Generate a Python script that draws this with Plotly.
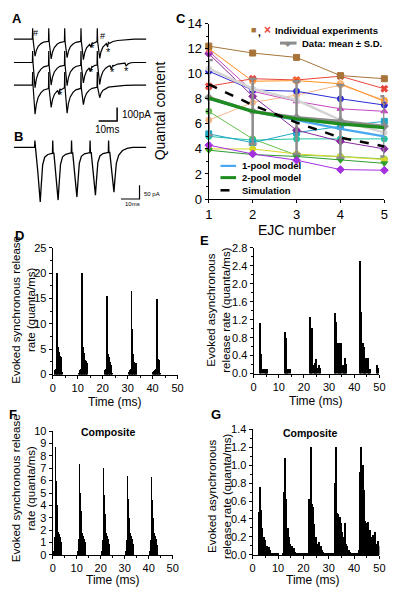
import numpy as np
import plotly.graph_objects as go

W, H = 403, 599
FONT = "Liberation Sans, Arial, sans-serif"


def fx(px):
    return px / W


def fy(py):
    return 1 - py / H


# ---------------- Panel A : EJC traces (ms, pA) ----------------
A_pulse_ms = [10.2, 18.9, 27.5, 36.3, 45.1]
A_baseline_pA = [0, -171, -336]
A_artifact_pA = [80, 85, 95]
A_peak_pA = [[-125, -145, -135, -150, -140],
             [-185, -165, -170, -150, -160],
             [-214, -164, -207, -143, -93]]
A_decay_ms = [1.3, 2.0, 3.0, 4.5, 6.0, 8.4]
A_decay_frac = [1.0, 0.66, 0.42, 0.26, 0.17, 0.12]
A_tail_ms = [1.3, 2.0, 3.0, 4.5, 6.0, 8.4, 11.0, 15.0, 20.0]
A_tail_frac = [1.0, 0.66, 0.42, 0.26, 0.17, 0.12, 0.07, 0.03, 0.0]
A_events = [(0, 41.3, -28), (0, 50.3, -30), (1, 40.8, -30), (1, 52.3, -25),
            (1, 60.2, -22), (2, 24.0, -35)]
A_end_ms = 71.6

# ---------------- Panel B : model EJC trace ----------------
B_pulse_ms = [11.4, 21.05, 31.2, 41.2, 51.2]
B_peak_pA = [-200, -193, -182, -175, -164]
B_artifact_pA = 25
B_shape_ms = [0.6, 1.6, 2.4, 2.9, 3.4, 4.2, 5.3, 7.0, 9.3]
B_shape_frac = [0.1, 0.45, 0.85, 1.0, 0.72, 0.32, 0.18, 0.13, 0.11]
B_tail_ms = [0.6, 1.6, 2.4, 2.9, 3.4, 4.2, 5.5, 7.5, 10.0, 13.0]
B_tail_frac = [0.1, 0.45, 0.85, 1.0, 0.72, 0.35, 0.17, 0.07, 0.02, 0.0]
B_end_ms = 71.6

# ---------------- Panel C : quantal content ----------------
ejc_number = [1, 2, 3, 4, 5]
exp_brown = [12.2, 11.65, 11.3, 9.85, 9.6]
exp_orange = [12.0, 9.4, 9.45, 9.2, 7.8]
exp_red = [9.0, 9.6, 9.5, 9.8, 8.8]
exp_magenta = [11.8, 8.6, 7.8, 7.2, 7.0]
exp_purple = [11.6, 8.2, 5.5, 4.6, 4.0]
exp_blue = [10.2, 8.7, 8.6, 8.0, 7.5]
exp_lightgray = [10.4, 8.8, 7.9, 6.3, 5.3]
exp_peach = [6.3, 7.7, 8.3, 9.1, 7.9]
exp_lightgreen = [7.0, 4.8, 3.5, 3.4, 3.2]
exp_teal = [5.2, 4.5, 5.3, 5.8, 6.2]
exp_cyan = [5.0, 4.7, 4.8, 4.8, 4.8]
exp_yellow = [4.0, 4.0, 3.6, 3.35, 3.15]
exp_green = [3.9, 3.55, 3.4, 3.1, 2.85]
exp_violet = [4.3, 3.6, 3.1, 2.35, 2.3]
data_mean = [8.1, 7.0, 6.5, 6.2, 5.8]
data_sd = [3.0, 2.6, 2.9, 2.9, 2.4]
one_pool = [8.0, 7.0, 6.3, 5.6, 5.0]
two_pool = [8.05, 7.0, 6.4, 6.0, 5.7]
simulation = [9.15, 7.5, 6.1, 4.9, 4.2]

# ---------------- Panel D : evoked synchronous release (0.25 ms bins) ----------------
D_bin_ms = 0.25
D_start_ms = [0.5, 10.25, 20.5, 30.25, 40.0]
D_rate = [
    [0.6, 1.0, 1.1, 1.3, 20.0, 11.0, 5.4, 4.5, 4.0, 3.7, 3.5, 3.3, 0.5],
    [0.4, 0.8, 1.0, 1.2, 1.4, 20.0, 11.0, 5.5, 4.2, 3.4, 3.0, 2.8, 2.6, 2.3],
    [0.5, 0.9, 1.1, 1.3, 15.6, 9.0, 4.0, 3.5, 3.0, 2.5, 2.0, 1.5, 0.4],
    [0.6, 0.8, 1.0, 1.2, 16.6, 9.0, 5.5, 4.0, 2.5, 2.5, 2.4, 2.3, 0.3],
    [0.5, 0.7, 0.8, 0.9, 1.0, 1.1, 15.0, 8.0, 3.2, 3.0, 2.8, 0.3],
]

# ---------------- Panel E : evoked asynchronous release (0.5 ms bins) ----------------
E_bin_ms = 0.5
E_start_ms = [2.0, 12.0, 22.0, 32.0, 42.0]
E_rate = [
    [1.13, 0.43, 0.0, 0.1, 0.1, 0.1, 0.1],
    [0.92, 0.80, 0.10, 0.10, 0.10],
    [1.27, 0.68, 1.02, 0.20, 0.25, 0.33, 0.12, 0.20, 0.12],
    [1.36, 1.15, 0.68, 0.68, 0.35, 0.68, 0.20, 0.12, 0.35, 0.22],
    [2.52, 1.38, 0.68, 0.60, 0.35, 0.35, 0.35, 0.10, 0.10, 0.0, 0.0, 0.0, 0.0, 0.20, 0.12],
]

# ---------------- Panel F : composite synchronous (0.25 ms bins) ----------------
F_bin_ms = 0.25
F_start_ms = [0.25, 10.25, 20.25, 30.25, 40.25]
F_rate = [
    [0.3, 1.2, 1.4, 8.7, 6.0, 4.0, 2.5, 1.85, 1.75, 1.7, 1.4, 1.25, 1.0, 0.3],
    [0.3, 1.1, 1.3, 7.3, 5.0, 3.5, 2.3, 1.8, 1.7, 1.5, 1.3, 1.2, 1.0, 0.2],
    [0.3, 1.0, 1.2, 7.0, 4.8, 3.3, 2.2, 1.8, 1.7, 1.5, 1.3, 1.1, 0.9, 0.2],
    [0.3, 1.0, 1.2, 6.35, 4.5, 3.0, 2.1, 1.8, 1.7, 1.5, 1.3, 1.2, 0.9, 0.2],
    [0.3, 1.0, 1.2, 6.25, 4.4, 3.0, 2.1, 1.8, 1.7, 1.5, 1.3, 1.1, 0.8, 0.2],
]

# ---------------- Panel G : composite asynchronous (0.5 ms bins) ----------------
G_bin_ms = 0.5
G_start_ms = [2.0, 11.5, 22.0, 31.5, 41.5]
G_rate = [
    [0.48, 0.75, 0.50, 0.30, 0.20, 0.16, 0.10, 0.10, 0.09, 0.05, 0.02, 0.02, 0.02, 0.02, 0.01, 0.01],
    [0.02, 0.70, 1.08, 0.62, 0.30, 0.20, 0.12, 0.10, 0.05, 0.08, 0.03, 0.02, 0.02, 0.02, 0.01, 0.01, 0.01, 0.01, 0.01, 0.01],
    [0.62, 1.20, 0.57, 0.53, 0.34, 0.20, 0.10, 0.12, 0.14, 0.10, 0.05, 0.03, 0.02, 0.02, 0.01, 0.01, 0.01, 0.01, 0.01],
    [0.02, 0.80, 1.20, 0.46, 0.45, 0.42, 0.35, 0.25, 0.20, 0.35, 0.12, 0.10, 0.05, 0.03, 0.02, 0.02, 0.02, 0.01, 0.01, 0.01],
    [0.05, 0.92, 1.20, 1.00, 0.72, 0.38, 0.35, 0.36, 0.25, 0.28, 0.20, 0.22, 0.18, 0.25, 0.12, 0.15, 0.10],
]

fig = go.Figure()


# ---------- build traces for A ----------
def trace_vertices(pulses, base, art, peaks, d_ms, d_frac, t_ms, t_frac, t_end):
    xs, ys = [0.0], [base]
    level = base
    for i, tp in enumerate(pulses):
        xs += [tp - 0.15, tp, tp + 0.2]
        ys += [level, base + art, level]
        last = i == len(pulses) - 1
        dm, df = (t_ms, t_frac) if last else (d_ms, d_frac)
        for dt, f in zip(dm, df):
            xs.append(tp + dt)
            ys.append(base + peaks[i] * f)
        level = ys[-1]
    xs.append(t_end)
    ys.append(base)
    return np.array(xs), np.array(ys)


for k in range(3):
    xs, ys = trace_vertices(A_pulse_ms, A_baseline_pA[k], A_artifact_pA[k], A_peak_pA[k],
                            A_decay_ms, A_decay_frac, A_tail_ms, A_tail_frac, A_end_ms)
    ex, ey = list(xs), list(ys)
    for (ti, te, amp) in A_events:
        if ti != k:
            continue
        for dt, f in [(-0.3, 0.0), (0.4, 1.0), (1.5, 0.3), (3.0, 0.0)]:
            ex.append(te + dt)
            ey.append(float(np.interp(te + dt, xs, ys)) + amp * f)
    order = np.argsort(ex, kind="stable")
    fig.add_trace(go.Scatter(x=np.array(ex)[order], y=np.array(ey)[order], mode="lines",
                             line=dict(color="black", width=1.2), xaxis="x", yaxis="y",
                             showlegend=False, hoverinfo="skip"))

# A scale bar (10 ms, 100 pA)
fig.add_trace(go.Scatter(x=[45.8, 55.8, 55.8], y=[-600, -600, -500], mode="lines",
                         line=dict(color="black", width=1.5), xaxis="x", yaxis="y",
                         showlegend=False, hoverinfo="skip"))

# ---------- B ----------
bx, by = trace_vertices(B_pulse_ms, 0, B_artifact_pA, B_peak_pA, B_shape_ms, B_shape_frac,
                        B_tail_ms, B_tail_frac, B_end_ms)
fig.add_trace(go.Scatter(x=bx, y=by, mode="lines", line=dict(color="black", width=1.3),
                         xaxis="x2", yaxis="y2", showlegend=False, hoverinfo="skip"))
fig.add_trace(go.Scatter(x=[57.9, 67.9, 67.9], y=[-189, -189, -139], mode="lines",
                         line=dict(color="black", width=1.2), xaxis="x2", yaxis="y2",
                         showlegend=False, hoverinfo="skip"))

# ---------- C ----------
indiv = [
    (exp_peach, "#f5b78a", "circle", 1.0),
    (exp_lightgreen, "#62c24e", "circle", 1.0),
    (exp_cyan, "#22c4a4", "circle", 1.0),
    (exp_teal, "#22a6c6", "square", 1.0),
    (exp_yellow, "#d6d62a", "circle", 1.0),
    (exp_green, "#2f9e2f", "triangle-down", 1.0),
    (exp_violet, "#a530e0", "diamond", 1.0),
    (exp_purple, "#8a2aa0", "diamond", 1.0),
    (exp_magenta, "#c548c0", "triangle-up", 1.0),
    (exp_blue, "#2b2bd6", "circle", 1.0),
    (exp_red, "#e8453a", "x", 1.0),
    (exp_orange, "#ff8e1c", "circle-open", 1.0),
    (exp_brown, "#a8743a", "square", 1.0),
    (exp_lightgray, "#d4d4d4", "hexagon", 2.5),
]
for vals, col, sym, lw in indiv:
    fig.add_trace(go.Scatter(x=ejc_number, y=vals, mode="lines+markers",
                             line=dict(color=col, width=lw),
                             marker=dict(color=col, symbol=sym, size=6, line=dict(width=1, color=col)),
                             xaxis="x3", yaxis="y3", showlegend=False, hoverinfo="skip",
                             cliponaxis=False))

fig.add_trace(go.Scatter(x=ejc_number, y=data_mean, mode="lines+markers",
                         line=dict(color="#8c8c8c", width=3),
                         marker=dict(color="#8c8c8c", symbol="diamond", size=7),
                         error_y=dict(type="data", array=data_sd, color="#8c8c8c",
                                      thickness=2.5, width=4),
                         xaxis="x3", yaxis="y3", showlegend=False, hoverinfo="skip",
                         cliponaxis=False))
fig.add_trace(go.Scatter(x=ejc_number, y=one_pool, mode="lines",
                         line=dict(color="#4aa8f0", width=2.2),
                         xaxis="x3", yaxis="y3", showlegend=False, hoverinfo="skip"))
fig.add_trace(go.Scatter(x=ejc_number, y=two_pool, mode="lines",
                         line=dict(color="#1e8c1e", width=3.2),
                         xaxis="x3", yaxis="y3", showlegend=False, hoverinfo="skip"))
fig.add_trace(go.Scatter(x=ejc_number, y=simulation, mode="lines",
                         line=dict(color="black", width=2.5, dash="dash"),
                         xaxis="x3", yaxis="y3", showlegend=False, hoverinfo="skip"))


# ---------- histograms ----------
def add_hist(starts, rates, binw, xa, ya):
    xs, ys = [], []
    for s, vals in zip(starts, rates):
        for i, v in enumerate(vals):
            xs.append(s + (i + 0.5) * binw)
            ys.append(v)
    fig.add_trace(go.Bar(x=xs, y=ys, width=binw, marker=dict(color="black", line=dict(width=0)),
                         xaxis=xa, yaxis=ya, showlegend=False, hoverinfo="skip"))


add_hist(D_start_ms, D_rate, D_bin_ms, "x4", "y4")
add_hist(E_start_ms, E_rate, E_bin_ms, "x5", "y5")
add_hist(F_start_ms, F_rate, F_bin_ms, "x6", "y6")
add_hist(G_start_ms, G_rate, G_bin_ms, "x7", "y7")


# ---------- axes ----------
def dom_x(a, b):
    return [fx(a), fx(b)]


def dom_y(top, bottom):
    return [fy(bottom), fy(top)]


hidden = dict(visible=False, showgrid=False, zeroline=False, fixedrange=True)
tickfont = dict(family=FONT, size=11, color="black")


def ax(domain, rng, anchor, dtick, fmt=None, minor=None, font=tickfont):
    d = dict(domain=domain, range=rng, anchor=anchor, showline=True, linecolor="black",
             linewidth=1.2, ticks="outside", ticklen=3, tickwidth=1.2, tickcolor="black",
             showgrid=False, zeroline=False, tickfont=font, dtick=dtick, tick0=0,
             fixedrange=True)
    if fmt:
        d["tickformat"] = fmt
    if minor:
        d["minor"] = dict(dtick=minor, ticks="outside", ticklen=2, tickwidth=1, tickcolor="black")
    return d


cfont = dict(family=FONT, size=13, color="black")
layout = dict(
    width=W, height=H, margin=dict(l=0, r=0, t=0, b=0),
    paper_bgcolor="white", plot_bgcolor="white", bargap=0, barmode="overlay",
    font=dict(family=FONT, color="black"),
    xaxis=dict(domain=dom_x(10, 146), range=[0, 71.6], anchor="y", **hidden),
    yaxis=dict(domain=dom_y(10, 122), range=[-635.7, 164.3], anchor="x", **hidden),
    xaxis2=dict(domain=dom_x(10, 146), range=[0, 71.6], anchor="y2", **hidden),
    yaxis2=dict(domain=dom_y(126, 204), range=[-214.3, 64.3], anchor="x2", **hidden),
    xaxis3=ax(dom_x(210, 390), [1, 5], "y3", 1, font=cfont),
    yaxis3=ax(dom_y(17, 197), [0, 14], "x3", 2, minor=1, font=cfont),
    xaxis4=ax(dom_x(50, 178), [0, 50], "y4", 10, minor=5),
    yaxis4=ax(dom_y(247, 377), [0, 25], "x4", 5, minor=2.5),
    xaxis5=ax(dom_x(256, 385), [0, 50], "y5", 10, minor=5),
    yaxis5=ax(dom_y(247, 376), [0, 2.8], "x5", 0.4, fmt=".1f", minor=0.2),
    xaxis6=ax(dom_x(50, 173), [0, 50], "y6", 10, minor=5),
    yaxis6=ax(dom_y(435, 562), [0, 10], "x6", 1),
    xaxis7=ax(dom_x(255, 385), [0, 50], "y7", 10, minor=5),
    yaxis7=ax(dom_y(433, 562), [0, 1.4], "x7", 0.2, fmt=".1f", minor=0.1),
)


def ann(text, px, py, size, bold=False, angle=0, xanchor="center", color="black"):
    return dict(text=f"<b>{text}</b>" if bold else text, x=fx(px), y=fy(py), xref="paper",
                yref="paper", showarrow=False, textangle=angle, xanchor=xanchor,
                yanchor="middle", font=dict(family=FONT, size=size, color=color))


anns = [
    ann("A", 13, 12, 13, bold=True), ann("B", 15, 133, 13, bold=True),
    ann("C", 182, 12, 13, bold=True), ann("D", 16, 234, 13, bold=True),
    ann("E", 206, 239, 13, bold=True), ann("F", 9, 418, 13, bold=True),
    ann("G", 217, 418, 13, bold=True),
    # panel A marks
    ann("#", 32.5, 27, 9), ann("#", 101.5, 30, 9),
    ann("*", 91, 42, 11), ann("*", 107.5, 46, 11), ann("*", 89.5, 67, 11),
    ann("*", 111, 67, 11), ann("*", 126, 66, 11), ann("*", 57.5, 90, 11),
    ann("100pA", 119, 110, 10, xanchor="left"), ann("10ms", 106, 126, 10),
    ann("50 pA", 142, 192, 6, xanchor="left"), ann("10ms", 132, 202, 6),
    # panel C
    ann("Quantal content", 160, 107, 14, angle=-90),
    ann("EJC number", 300, 229, 14),
    ann("■", 256, 24, 9, color="#a8743a"), ann(",", 262, 26, 10, bold=True),
    ann("×", 270, 24, 12, bold=True, color="#e8453a"),
    ann("Individual experiments", 276, 24, 9.5, bold=True, xanchor="left"),
    ann("◆", 291, 37, 7, color="#8c8c8c"),
    ann("Data: mean ± S.D.", 304, 37, 9.5, bold=True, xanchor="left"),
    ann("1-pool model", 242, 163, 9.5, bold=True, xanchor="left"),
    ann("2-pool model", 242, 175, 9.5, bold=True, xanchor="left"),
    ann("Simulation", 242, 188, 9.5, bold=True, xanchor="left"),
    # D-G
    ann("Evoked synchronous release<br>rate (quanta/ms)", 20, 311, 11.5, angle=-90),
    ann("Time (ms)", 114, 405, 12),
    ann("Evoked asynchronous<br>release rate (quanta/ms)", 220, 311, 11.5, angle=-90),
    ann("Time (ms)", 320, 404, 12),
    ann("Evoked synchronous release<br>rate (quanta/ms)", 20, 494, 11.5, angle=-90),
    ann("Time (ms)", 112, 588, 12),
    ann("Composite", 107, 436, 10.5, bold=True),
    ann("Evoked asynchronous<br>release rate (quanta/ms)", 221, 502, 11.5, angle=-90),
    ann("Time (ms)", 317, 588, 12),
    ann("Composite", 314, 437, 10.5, bold=True),
]
layout["annotations"] = anns

shapes = [
    dict(type="line", xref="paper", yref="paper", x0=fx(283), x1=fx(300), y0=fy(37), y1=fy(37),
         line=dict(color="#8c8c8c", width=3)),
    dict(type="line", xref="paper", yref="paper", x0=fx(222), x1=fx(238), y0=fy(163), y1=fy(163),
         line=dict(color="#4aa8f0", width=2.2)),
    dict(type="line", xref="paper", yref="paper", x0=fx(222), x1=fx(238), y0=fy(175), y1=fy(175),
         line=dict(color="#1e8c1e", width=3)),
    dict(type="line", xref="paper", yref="paper", x0=fx(222), x1=fx(238), y0=fy(188), y1=fy(188),
         line=dict(color="black", width=2.5, dash="dash")),
]
layout["shapes"] = shapes

fig.update_layout(**layout)
fig.write_html("out.html", config={"displayModeBar": False},
               post_script="document.body.style.margin='0px';")
